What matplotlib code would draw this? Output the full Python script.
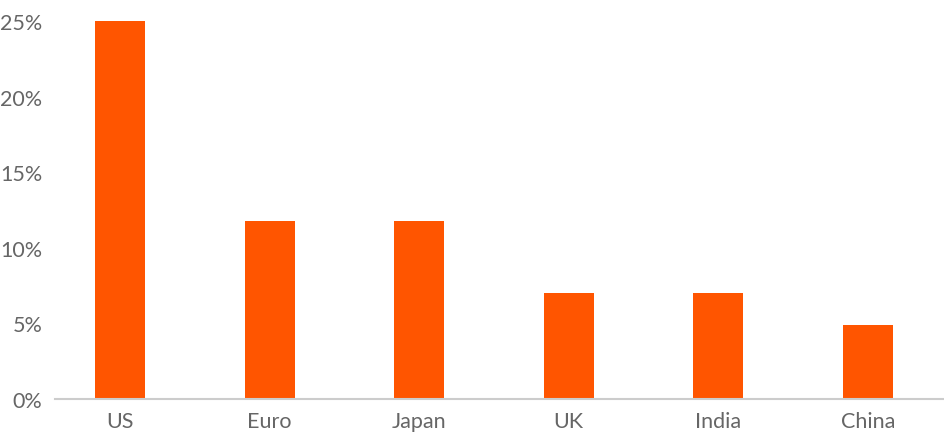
import matplotlib.pyplot as plt

countries = ['US', 'Euro', 'Japan', 'UK', 'India', 'China']
shares = [25, 11.8, 11.8, 7, 7, 4.9]
y_ticks = [0, 5, 10, 15, 20, 25]
y_labels = ['0%', '5%', '10%', '15%', '20%', '25%']

plt.rcParams['font.family'] = ['Lato', 'DejaVu Sans']

fig = plt.figure(figsize=(9.45, 4.39), dpi=100)
ax = fig.add_axes([55 / 945, 39 / 439, 890 / 945, 1 - 39 / 439])

ax.bar(range(len(countries)), shares, width=0.334, color='#ff5500')

ax.set_xlim(-0.434, 5.515)
ax.set_ylim(0, 400 / 15.12)
ax.set_yticks(y_ticks)
ax.set_yticklabels(y_labels)
ax.set_xticks(range(len(countries)))
ax.set_xticklabels(countries)

for s in ['top', 'right', 'left']:
    ax.spines[s].set_visible(False)
ax.spines['bottom'].set_color('#cccccc')
ax.spines['bottom'].set_linewidth(1.5)
ax.tick_params(axis='both', length=0, labelsize=15.5, colors='#666666')
ax.tick_params(axis='y', pad=9)
ax.tick_params(axis='x', pad=9)

fig.savefig('out.png', dpi=100)
